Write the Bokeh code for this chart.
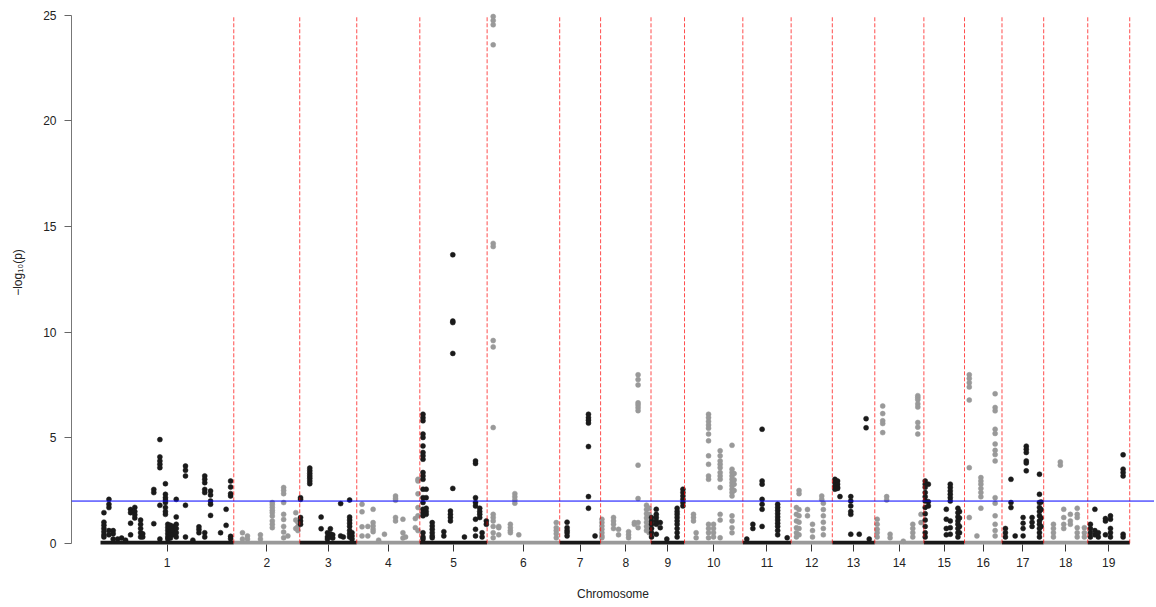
from bokeh.plotting import figure
from bokeh.models import ColumnDataSource, FixedTicker, Span
from bokeh.embed import file_html
from bokeh.resources import INLINE

# ---------------- data ----------------
chrom_names = [str(i) for i in range(1, 20)]
chrom_len = [50.5, 25.0, 21.6, 23.9, 25.5, 27.5, 15.5, 19.1, 12.7, 22.1,
             18.3, 15.6, 16.1, 18.6, 15.4, 14.2, 15.8, 16.7, 15.9]  # Mb
threshold = 2.0
y_ticks = [0, 5, 10, 15, 20, 25]

# (position within chromosome in Mb, [-log10(p) values at that position])
chr1 = [(1.3, [1.45, 1.0, 0.85, 0.7, 0.55, 0.4, 0.3]), (3.2, [2.08, 1.85, 1.69, 0.6, 0.4]),
        (4.8, [0.6, 0.45, 0.2]), (6.5, [0.2]), (8.0, [0.25]), (9.5, [0.15]),
        (11.4, [1.6, 1.45, 0.95, 0.4]), (13.0, [1.7, 1.5, 1.35, 1.2]),
        (15.2, [1.1, 0.9, 0.7, 0.5, 0.3]), (16.0, [0.45, 0.3]), (20.2, [2.55, 2.4, 0.93]),
        (22.5, [4.91, 4.09, 3.9, 3.74, 3.58, 1.8, 0.2]),
        (24.6, [2.82, 2.32, 2.16, 2.04, 1.93, 1.69, 1.5, 1.37]),
        (25.5, [0.9, 0.75, 0.6, 0.45, 0.3, 0.2]), (26.5, [0.85, 0.7, 0.55, 0.4, 0.25]),
        (27.5, [0.8, 0.6, 0.4]), (28.7, [2.08, 1.25, 0.9, 0.7, 0.5, 0.3]),
        (32.2, [3.66, 3.46, 3.19, 1.8, 0.3]), (35.0, [0.15]), (37.3, [0.78, 0.65, 0.5]),
        (39.5, [3.19, 3.03, 2.87, 2.55, 2.4, 0.5, 0.3]), (41.7, [2.48, 2.29, 2.0, 1.85, 1.32]),
        (45.5, [0.5]), (47.6, [1.61, 0.85]), (49.3, [2.95, 2.66, 2.35, 2.24, 0.33, 0.22])]
chr2 = [(3.3, [0.5, 0.2]), (5.2, [0.35, 0.2]), (10.1, [0.4, 0.2]),
        (14.6, [1.93, 1.82, 1.69, 1.56, 1.45, 1.29, 1.06, 0.9, 0.74]),
        (18.9, [2.64, 2.5, 2.35, 1.93, 1.37, 1.13, 0.8, 0.53, 0.26]), (20.5, [0.35]),
        (23.5, [1.45, 1.1, 0.7]), (24.3, [1.0, 0.8, 0.6])]
chr3 = [(0.3, [2.16, 2.08, 1.22, 1.06, 0.9]), (3.8, [3.56, 3.43, 3.31, 3.19, 3.08, 2.95, 2.82]),
        (8.1, [1.24, 0.69]), (10.5, [0.5, 0.3, 0.2]), (11.6, [0.69, 0.45, 0.3]),
        (12.5, [0.4, 0.25]), (15.5, [1.88, 0.35]), (16.5, [0.3]),
        (18.9, [2.05, 1.24, 1.1, 0.95, 0.8, 0.6, 0.45, 0.3]), (19.8, [0.5, 0.35, 0.2])]
chr4 = [(2.0, [1.85, 1.49, 0.78, 0.35]), (4.2, [0.8, 0.35]), (6.2, [1.61, 0.98, 0.82, 0.66, 0.55]),
        (8.3, [0.15]), (10.5, [0.43]), (14.7, [2.24, 2.13, 2.04, 1.22, 1.06]),
        (17.5, [1.14, 0.5, 0.25]), (18.5, [0.3]), (22.2, [1.17, 0.74]),
        (23.2, [3.03, 2.95, 2.34, 1.69, 1.3, 0.6])]
chr5 = [(1.2, [6.11, 5.95, 5.8, 5.17, 5.01, 4.61, 4.3, 4.14, 3.98, 3.35, 3.19, 3.03, 2.56, 2.16,
               1.93, 1.61, 1.45, 1.3, 0.5, 0.3, 0.2]),
        (2.4, [2.56, 2.16, 1.66, 1.5, 1.37]), (4.7, [0.98, 0.82, 0.66, 0.5, 0.35, 0.26]),
        (9.1, [0.55, 0.35]), (11.6, [1.53, 1.37, 1.22, 1.06]),
        (12.5, [13.66, 10.52, 10.45, 8.99, 2.6]), (16.9, [0.3]),
        (21.1, [3.9, 3.78, 2.16, 1.93, 1.77, 1.14, 0.66, 0.35]), (22.7, [1.66, 1.5, 1.37, 1.22]),
        (23.6, [0.5, 0.3]), (25.2, [1.06, 0.9])]
chr6 = [(2.3, [24.94, 24.75, 24.55, 23.6, 14.2, 14.05, 9.6, 9.3, 5.48, 1.37, 1.22, 1.06, 0.8, 0.5, 0.26]),
        (4.4, [0.8, 0.74, 0.4]), (8.8, [0.9, 0.74, 0.6, 0.5]), (10.5, [2.35, 2.2, 2.05, 1.9]),
        (12.0, [0.4]), (26.2, [0.98, 0.74, 0.6, 0.45, 0.26])]
chr7 = [(2.8, [1.0, 0.74, 0.6, 0.5, 0.35]), (10.9, [6.11, 5.95, 5.83, 5.69, 4.58, 2.21, 1.66]),
        (13.4, [0.35])]
chr8 = [(0.5, [1.14, 0.98, 0.82, 0.66, 0.5, 0.35, 0.26]), (4.9, [1.22, 1.06, 0.9, 0.7]),
        (6.8, [0.66, 0.4]), (10.6, [0.55, 0.4, 0.26]), (12.8, [0.98, 0.9]),
        (14.2, [7.98, 7.75, 7.5, 6.65, 6.55, 6.42, 6.28, 3.7, 2.12, 0.98, 0.74]),
        (17.4, [1.8, 1.6, 1.4, 1.2, 1.0, 0.8, 0.6]), (18.4, [1.66, 1.37, 0.9, 0.5])]
chr9 = [(0.2, [1.22, 1.06, 0.9, 0.7, 0.5, 0.3]), (2.0, [1.61, 1.37, 1.22, 1.06, 0.9, 0.43]),
        (3.5, [0.98, 0.74]), (6.0, [0.2]), (9.9, [1.66, 1.5, 1.37, 1.22, 1.06, 0.9, 0.7, 0.5, 0.3]),
        (12.1, [2.56, 2.4, 2.24, 2.08, 1.93, 1.77])]
chr10 = [(3.4, [1.37, 1.22, 1.06]), (4.4, [0.5, 0.26]),
         (9.1, [6.11, 5.95, 5.77, 5.6, 5.45, 5.17, 4.85, 4.14, 3.74, 3.19, 3.03, 0.9, 0.7, 0.5, 0.26]),
         (11.0, [0.9, 0.7, 0.5, 0.3]),
         (13.5, [4.38, 4.14, 3.9, 3.74, 3.58, 3.35, 3.19, 3.03, 2.64, 1.37, 1.1, 0.26]),
         (18.0, [4.64, 3.51, 3.35, 3.19, 3.03, 2.87, 2.72, 2.56, 2.4, 2.24, 1.3, 1.06, 0.74, 0.5]),
         (18.8, [3.3, 3.0, 2.8, 2.5])]
chr11 = [(1.5, [0.2]), (3.8, [0.9, 0.7]), (7.3, [5.4, 2.95, 2.8, 2.08, 1.85, 1.61, 0.8]),
         (13.2, [1.85, 1.7, 1.55, 1.4, 1.25, 1.1, 0.95, 0.8, 0.6, 0.4]), (16.8, [0.26])]
chr12 = [(2.0, [1.69, 1.37, 1.06, 0.74, 0.5, 0.3]), (3.0, [2.5, 2.35, 1.6, 1.3, 1.0, 0.7, 0.4]),
         (6.2, [1.6, 1.3]), (8.1, [0.9, 0.6, 0.3]), (11.6, [2.24, 2.08]),
         (12.2, [1.9, 1.6, 1.3, 1.0, 0.7, 0.4])]
chr13 = [(1.0, [3.03, 2.87, 2.7, 2.56]), (2.0, [2.95, 2.8, 2.65, 2.6]), (2.9, [2.21]),
         (7.0, [2.21, 2.0, 1.77, 1.5, 1.37, 0.43]), (10.2, [0.43]), (12.8, [5.9, 5.47]), (14.0, [0.2])]
chr14 = [(0.9, [1.14, 0.9, 0.66, 0.5, 0.3]), (3.0, [6.5, 6.14, 5.8, 5.67, 5.24]), (4.5, [2.21, 2.05]),
         (5.8, [0.43, 0.26]), (10.8, [0.1]), (14.4, [0.9, 0.7, 0.5, 0.3]),
         (16.3, [6.99, 6.9, 6.8, 6.6, 6.45, 5.72, 5.5, 5.17]), (17.5, [1.37, 0.98])]
chr15 = [(0.5, [2.95, 2.8, 2.65, 2.4, 2.2, 2.0, 1.7, 1.4, 1.1, 0.8, 0.5, 0.3]), (1.7, [2.8, 1.97, 1.77]),
         (8.5, [1.61, 1.14, 0.7, 0.4]), (10.0, [2.8, 2.64, 2.48, 2.32, 2.16, 2.0, 1.06, 0.74, 0.43]),
         (12.9, [1.66, 1.45, 1.25, 1.06, 0.9, 0.7, 0.5, 0.3]), (13.5, [1.5, 1.2, 0.8, 0.5])]
chr16 = [(1.8, [7.98, 7.8, 7.6, 7.4, 6.78, 3.58, 1.22]), (4.7, [0.35]),
         (6.2, [3.11, 2.95, 2.8, 2.6, 2.4, 2.2, 1.66]),
         (11.6, [7.08, 6.43, 6.27, 5.4, 5.2, 4.7, 4.4, 4.2, 3.9, 2.16, 1.9, 1.3, 0.9, 0.6, 0.35])]
chr17 = [(1.3, [0.7, 0.5, 0.3]), (3.4, [3.03, 1.93, 1.69]), (5.0, [0.35]), (8.0, [1.22, 0.95, 0.7, 0.35]),
         (9.2, [4.6, 4.45, 4.3, 3.9, 3.8, 3.43]), (11.4, [1.22, 1.0, 0.8]),
         (14.2, [3.27, 2.32, 1.93, 1.7, 1.5, 1.3, 1.06, 0.9, 0.7, 0.5, 0.3]), (14.8, [1.95, 1.6, 1.2, 0.8])]
chr18 = [(3.7, [0.9, 0.7, 0.5, 0.3]), (6.3, [3.85, 3.7]), (7.6, [1.61, 1.22, 0.9, 0.7]),
         (10.1, [1.37, 1.06, 0.9]), (12.7, [1.66, 1.37, 1.22, 0.74, 0.5, 0.3]), (15.4, [0.74, 0.5, 0.3])]
chr19 = [(1.0, [0.9, 0.7, 0.5, 0.3]), (2.7, [1.61, 0.6, 0.4]), (4.0, [0.5, 0.3]),
         (6.7, [1.17, 1.05, 0.4]), (8.6, [1.3, 1.14, 0.7, 0.5, 0.3]),
         (13.4, [4.19, 3.51, 3.35, 3.19, 0.43, 0.3])]

snps = [chr1, chr2, chr3, chr4, chr5, chr6, chr7, chr8, chr9, chr10,
        chr11, chr12, chr13, chr14, chr15, chr16, chr17, chr18, chr19]

# ---------------- build ----------------
DARK, LIGHT = "#1a1a1a", "#999999"
starts, ends, centers = [], [], []
acc = 0.0
for L in chrom_len:
    starts.append(acc)
    ends.append(acc + L)
    centers.append(round(acc + L / 2.0, 3))
    acc += L

xs, ys, cols = [], [], []
for i, groups in enumerate(snps):
    c = DARK if i % 2 == 0 else LIGHT
    for pos, vals in groups:
        for v in vals:
            xs.append(starts[i] + pos)
            ys.append(v)
            cols.append(c)

band = ColumnDataSource(dict(x0=starts, x1=ends, y=[0.0] * 19,
                             c=[DARK if i % 2 == 0 else LIGHT for i in range(19)]))
pts = ColumnDataSource(dict(x=xs, y=ys, c=cols))
bounds = ColumnDataSource(dict(x=ends, y0=[0.0] * 19, y1=[25.0] * 19))

p = figure(width=1154, height=605, output_backend="svg", toolbar_location=None,
           x_range=(-10.99, 399.39), y_range=(-0.057, 25.70),
           min_border_left=71, min_border_right=0, min_border_top=0, min_border_bottom=61)
p.outline_line_color = None
p.grid.visible = False
p.background_fill_color = "white"

p.segment(x0="x0", y0="y", x1="x1", y1="y", source=band, line_color="c", line_width=5)
p.scatter("x", "y", source=pts, size=5, fill_color="c", line_color="c", line_width=0.5)
p.segment(x0="x", y0="y0", x1="x", y1="y1", source=bounds, line_color="#ff0000",
          line_alpha=0.7, line_width=1, line_dash="4 2")
p.add_layout(Span(location=threshold, dimension="width", line_color="#0000ff", line_width=1))

FONT = "Liberation Sans"
# x axis
xa = p.xaxis[0]
xa.ticker = FixedTicker(ticks=centers)
xa.major_label_overrides = {c: n for c, n in zip(centers, chrom_names)}
xa.minor_tick_line_color = None
xa.axis_line_color = None
xa.major_tick_line_color = "#333333"
xa.major_tick_out = 7
xa.major_tick_in = 0
xa.major_label_standoff = 6
xa.major_label_text_font = FONT
xa.major_label_text_font_size = "12px"
xa.major_label_text_color = "#222222"
xa.axis_label = "Chromosome"
xa.axis_label_text_font = FONT
xa.axis_label_text_font_size = "12px"
xa.axis_label_text_font_style = "normal"
xa.axis_label_text_color = "#222222"
xa.axis_label_standoff = 17

# y axis
ya = p.yaxis[0]
ya.ticker = FixedTicker(ticks=y_ticks)
ya.bounds = (0, 25)
ya.minor_tick_line_color = None
ya.axis_line_color = "#777777"
ya.major_tick_line_color = "#666666"
ya.major_tick_out = 7
ya.major_tick_in = 0
ya.major_label_standoff = 8
ya.major_label_orientation = "horizontal"
ya.major_label_text_font = FONT
ya.major_label_text_font_size = "12px"
ya.major_label_text_color = "#222222"
ya.axis_label = "\u2212log\u2081\u2080(p)"
ya.axis_label_text_font = FONT
ya.axis_label_text_font_size = "12px"
ya.axis_label_text_font_style = "normal"
ya.axis_label_text_color = "#222222"
ya.axis_label_standoff = 15

open("out.html", "w").write(file_html(p, INLINE))
